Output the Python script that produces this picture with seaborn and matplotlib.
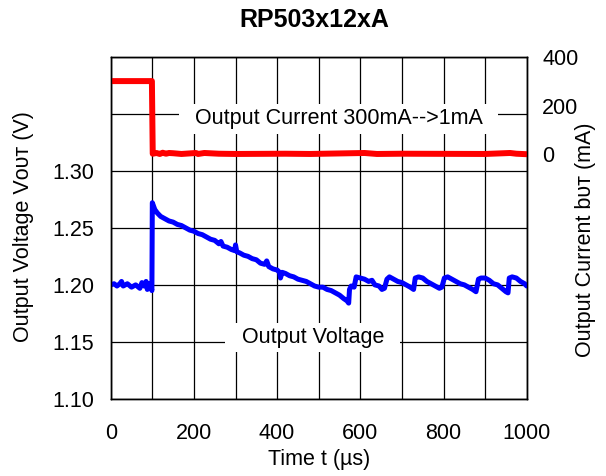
import numpy as np
import pandas as pd
import matplotlib
matplotlib.use("Agg")
import matplotlib.pyplot as plt
import seaborn as sns

# ----------------------------
# Data
# ----------------------------
volt_time = [0, 8, 15, 22, 26, 30, 40, 50, 60, 70, 75, 80, 85, 88, 92, 96, 99,
             100, 102, 106, 112, 120, 130, 140, 150, 160, 170, 180, 190, 200,
             210, 220, 230, 240, 250, 260, 265, 270, 280, 290, 298, 300, 303,
             310, 320, 330, 340, 350, 360, 370, 375, 380, 390, 400, 406, 408,
             412, 420, 430, 440, 450, 460, 470, 480, 490, 500, 510, 520, 530,
             540, 550, 560, 568, 572, 574, 578, 585, 590, 600, 610, 620, 628,
             635, 645, 652, 658, 664, 670, 680, 690, 700, 710, 720, 728, 732,
             740, 750, 760, 770, 780, 790, 796, 802, 810, 820, 830, 840, 850,
             860, 870, 878, 884, 890, 900, 910, 920, 930, 940, 950, 955, 958,
             965, 975, 985, 995, 1000]
volt_val = [1.200, 1.201, 1.199, 1.201, 1.203, 1.199, 1.201, 1.198, 1.200,
            1.197, 1.202, 1.199, 1.203, 1.196, 1.201, 1.199, 1.195,
            1.272, 1.270, 1.266, 1.263, 1.260, 1.258, 1.256, 1.255, 1.253,
            1.252, 1.250, 1.248, 1.247, 1.245, 1.244, 1.242, 1.240, 1.239,
            1.236, 1.238, 1.234, 1.233, 1.231, 1.230, 1.235, 1.229, 1.228,
            1.226, 1.225, 1.223, 1.222, 1.219, 1.218, 1.221, 1.216, 1.214,
            1.213, 1.211, 1.206, 1.211, 1.210, 1.208, 1.207, 1.205, 1.204,
            1.203, 1.201, 1.199, 1.198, 1.198, 1.196, 1.195, 1.193, 1.191,
            1.188, 1.186, 1.184, 1.196, 1.199, 1.198, 1.207, 1.206, 1.205,
            1.203, 1.204, 1.200, 1.199, 1.196, 1.197, 1.205, 1.207, 1.205,
            1.203, 1.202, 1.200, 1.198, 1.196, 1.206, 1.207, 1.206, 1.203,
            1.201, 1.199, 1.197, 1.198, 1.206, 1.207, 1.205, 1.203, 1.201,
            1.200, 1.198, 1.196, 1.194, 1.205, 1.206, 1.206, 1.204, 1.201,
            1.200, 1.197, 1.194, 1.193, 1.206, 1.207, 1.206, 1.203, 1.201,
            1.199]

curr_time = [0, 99, 101, 110, 118, 125, 133, 140, 150, 170, 205, 210, 225,
             260, 300, 420, 480, 610, 640, 700, 900, 960, 975, 1000]
curr_val = [300, 300, 3, 6, 2, 7, 3, 6, 5, 2, 6, 2, 6, 3, 2, 3, 2, 6, 2, 3, 2,
            6, 3, 1]

volt_ticks = [1.10, 1.15, 1.20, 1.25, 1.30, 1.35, 1.40]
volt_labels = ["1.10", "1.15", "1.20", "1.25", "1.30", "", ""]
curr_ticks = [0, 200, 400]
time_ticks = [0, 200, 400, 600, 800, 1000]

volt_df = pd.DataFrame({"t": volt_time, "v": volt_val})
curr_df = pd.DataFrame({"t": curr_time, "i": curr_val})

# ----------------------------
# Plot
# ----------------------------
sns.set_style("white")
plt.rcParams["font.family"] = ["Liberation Sans", "DejaVu Sans"]
plt.rcParams["text.color"] = "black"
plt.rcParams["xtick.color"] = "black"
plt.rcParams["ytick.color"] = "black"

fs = 15.5

fig = plt.figure(figsize=(6.06, 4.76), dpi=100)
ax = fig.add_axes([0.1827, 0.1618, 0.6865, 0.7192])

sns.lineplot(x="t", y="v", data=volt_df, ax=ax, color="#0000FF",
             linewidth=3.6, zorder=4)
ax.set_xlim(0, 1000)
ax.set_ylim(1.10, 1.40)
ax.set_xticks(np.arange(0, 1001, 100))
ax.set_xticklabels([str(t) if t in time_ticks else "" for t in range(0, 1001, 100)])
ax.set_yticks(volt_ticks)
ax.set_yticklabels(volt_labels)
ax.grid(True, color="black", linewidth=0.9)
ax.set_axisbelow(True)
ax.tick_params(axis="y", length=0, pad=12, labelsize=fs)
ax.tick_params(axis="x", length=0, pad=17, labelsize=fs)
ax.set_xlabel("")
ax.set_ylabel("")
for s in ax.spines.values():
    s.set_color("black")
    s.set_linewidth(1.0)

ax2 = ax.twinx()
sns.lineplot(x="t", y="i", data=curr_df, ax=ax2, color="#FF0000",
             linewidth=4.3)
ax2.set_ylim(-1000, 400)
ax2.set_yticks(curr_ticks)
ax2.set_yticklabels(["0", "200", "400"])
ax2.tick_params(axis="y", length=0, pad=11, labelsize=fs)
ax2.set_ylabel("")
ax2.grid(False)
for s in ax2.spines.values():
    s.set_color("black")
    s.set_linewidth(1.0)

ax.text(547, 1.3456, "  Output Current 300mA-->1mA  ", fontsize=fs,
        ha="center", va="center", zorder=3,
        bbox=dict(facecolor="white", edgecolor="none", boxstyle="square,pad=0.2"))
ax.text(486, 1.154, "  Output Voltage  ", fontsize=fs,
        ha="center", va="center", zorder=3,
        bbox=dict(facecolor="white", edgecolor="none", boxstyle="square,pad=0.2"))

fig.text(314 / 606, 1 - 20 / 476, "RP503x12xA", fontsize=18,
         fontweight="bold", ha="center", va="center")
fig.text(318.7 / 606, 1 - 460 / 476, "Time t (µs)", fontsize=fs,
         ha="center", va="center")
fig.text(24 / 606, 1 - 227 / 476, "Output Voltage Vᴏᴜᴛ (V)", fontsize=fs,
         rotation=90, ha="center", va="center")
fig.text(585 / 606, 1 - 240 / 476, "Output Current bᴜᴛ (mA)", fontsize=fs,
         rotation=90, ha="center", va="center")

plt.savefig("out.png", dpi=100)
